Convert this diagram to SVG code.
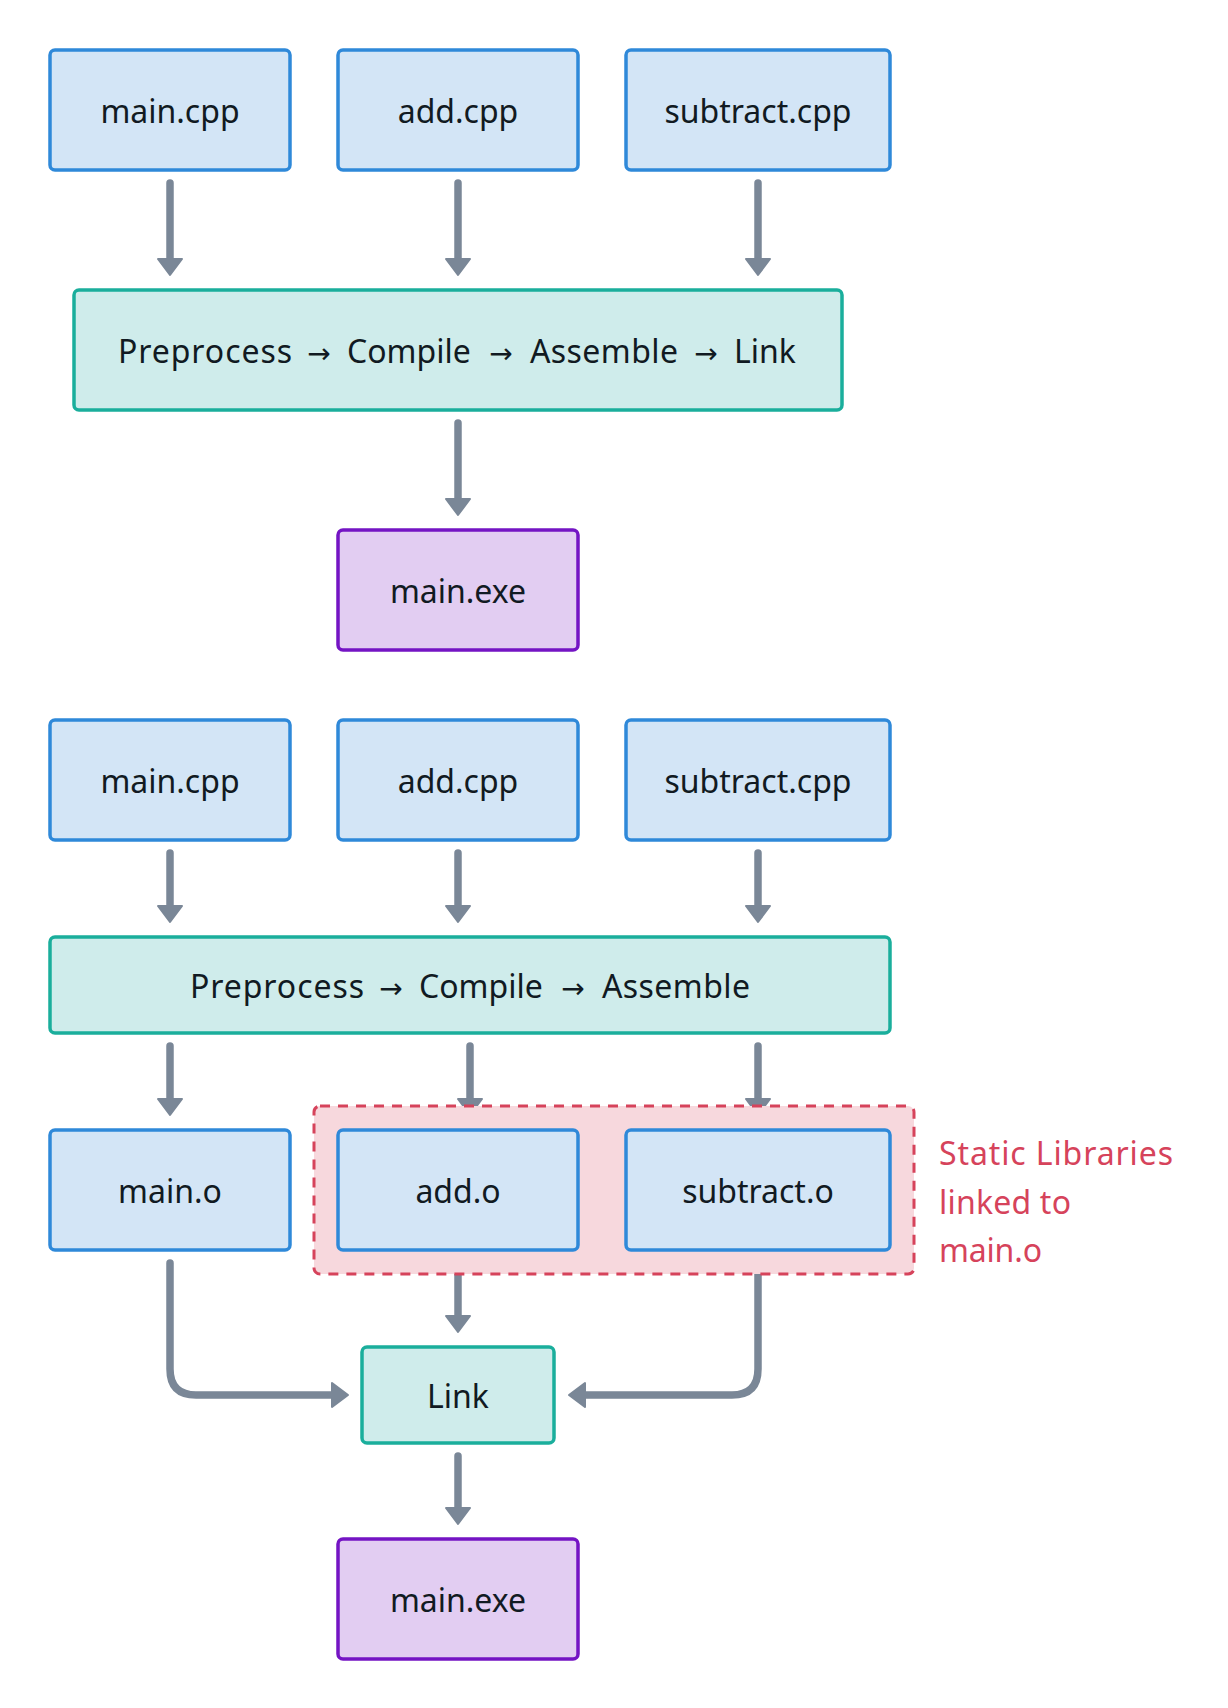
<svg xmlns="http://www.w3.org/2000/svg" width="1228" height="1708" viewBox="0 0 1228 1708">
<style>
  text { font-family: "Noto Sans", "DejaVu Sans", sans-serif; font-size: 32px; fill: #111a22; }
  .lbl { text-anchor: middle; }
  .src rect { fill: #d3e5f6; stroke: #2f89d9; stroke-width: 3.5; }
  .proc rect { fill: #cfeceb; stroke: #1aae9c; stroke-width: 3.5; }
  .exe rect { fill: #e2cdf2; stroke: #7414c4; stroke-width: 3.5; }
  .conn { fill: none; stroke: #7a8797; stroke-width: 7.5; stroke-linecap: round; marker-end: url(#ah); }
  .libbox { fill: #f7d8dd; stroke: #d6435b; stroke-width: 3; stroke-dasharray: 10 8; }
  .libtxt { fill: #d6435b; }
  .arr { font-size: 28px; text-anchor: middle; }
</style>
<defs>
  <marker id="ah" markerUnits="userSpaceOnUse" viewBox="0 0 20 28" markerWidth="20" markerHeight="28" refX="1" refY="14" orient="auto">
    <path d="M2,2 L18,14 L2,26 Z" fill="#7a8797" stroke="#7a8797" stroke-width="2" stroke-linejoin="round"/>
  </marker>
</defs>

<g id="connectors">
  <path class="conn" d="M170,183 V258"/>
  <path class="conn" d="M458,183 V258"/>
  <path class="conn" d="M758,183 V258"/>
  <path class="conn" d="M458,423 V498"/>
  <path class="conn" d="M170,853 V905"/>
  <path class="conn" d="M458,853 V905"/>
  <path class="conn" d="M758,853 V905"/>
  <path class="conn" d="M170,1046 V1098"/>
  <path class="conn" d="M470,1046 V1098"/>
  <path class="conn" d="M758,1046 V1098"/>
  <path class="conn" d="M170,1263 V1369 Q170,1395 196,1395 H331"/>
  <path class="conn" d="M458,1263 V1315"/>
  <path class="conn" d="M758,1263 V1369 Q758,1395 732,1395 H586"/>
  <path class="conn" d="M458,1456 V1507"/>
</g>

<g id="static-libs">
  <rect class="libbox" x="314" y="1106" width="600" height="168" rx="6"/>
  <text class="libtxt" x="939" y="1165" textLength="234" lengthAdjust="spacing">Static Libraries</text>
  <text class="libtxt" x="939" y="1213.5" textLength="132" lengthAdjust="spacing">linked to</text>
  <text class="libtxt" x="939" y="1262" textLength="103" lengthAdjust="spacing">main.o</text>
</g>

<g id="main-cpp-1" class="src"><rect x="50" y="50" width="240" height="120" rx="5"/><text class="lbl" x="170" y="122.5">main.cpp</text></g>
<g id="add-cpp-1" class="src"><rect x="338" y="50" width="240" height="120" rx="5"/><text class="lbl" x="458" y="122.5">add.cpp</text></g>
<g id="subtract-cpp-1" class="src"><rect x="626" y="50" width="264" height="120" rx="5"/><text class="lbl" x="758" y="122.5">subtract.cpp</text></g>

<g id="pipeline-1" class="proc"><rect x="74" y="290" width="768" height="120" rx="5"/>
  <text x="118" y="362.5" textLength="174" lengthAdjust="spacing">Preprocess</text>
  <text class="arr" x="319" y="362.5">→</text>
  <text x="347" y="362.5">Compile</text>
  <text class="arr" x="501" y="362.5">→</text>
  <text x="530" y="362.5" textLength="148" lengthAdjust="spacing">Assemble</text>
  <text class="arr" x="706" y="362.5">→</text>
  <text x="734" y="362.5">Link</text>
</g>

<g id="main-exe-1" class="exe"><rect x="338" y="530" width="240" height="120" rx="5"/><text class="lbl" x="458" y="602.5">main.exe</text></g>

<g id="main-cpp-2" class="src"><rect x="50" y="720" width="240" height="120" rx="5"/><text class="lbl" x="170" y="792.5">main.cpp</text></g>
<g id="add-cpp-2" class="src"><rect x="338" y="720" width="240" height="120" rx="5"/><text class="lbl" x="458" y="792.5">add.cpp</text></g>
<g id="subtract-cpp-2" class="src"><rect x="626" y="720" width="264" height="120" rx="5"/><text class="lbl" x="758" y="792.5">subtract.cpp</text></g>

<g id="pipeline-2" class="proc"><rect x="50" y="937" width="840" height="96" rx="5"/>
  <text x="190" y="997.5" textLength="174" lengthAdjust="spacing">Preprocess</text>
  <text class="arr" x="391" y="997.5">→</text>
  <text x="419" y="997.5">Compile</text>
  <text class="arr" x="573" y="997.5">→</text>
  <text x="602" y="997.5" textLength="148" lengthAdjust="spacing">Assemble</text>
</g>

<g id="main-o" class="src"><rect x="50" y="1130" width="240" height="120" rx="5"/><text class="lbl" x="170" y="1202.5">main.o</text></g>
<g id="add-o" class="src"><rect x="338" y="1130" width="240" height="120" rx="5"/><text class="lbl" x="458" y="1202.5">add.o</text></g>
<g id="subtract-o" class="src"><rect x="626" y="1130" width="264" height="120" rx="5"/><text class="lbl" x="758" y="1202.5">subtract.o</text></g>

<g id="link" class="proc"><rect x="362" y="1347" width="192" height="96" rx="5"/><text class="lbl" x="458" y="1407.5">Link</text></g>

<g id="main-exe-2" class="exe"><rect x="338" y="1539" width="240" height="120" rx="5"/><text class="lbl" x="458" y="1611.5">main.exe</text></g>
</svg>
